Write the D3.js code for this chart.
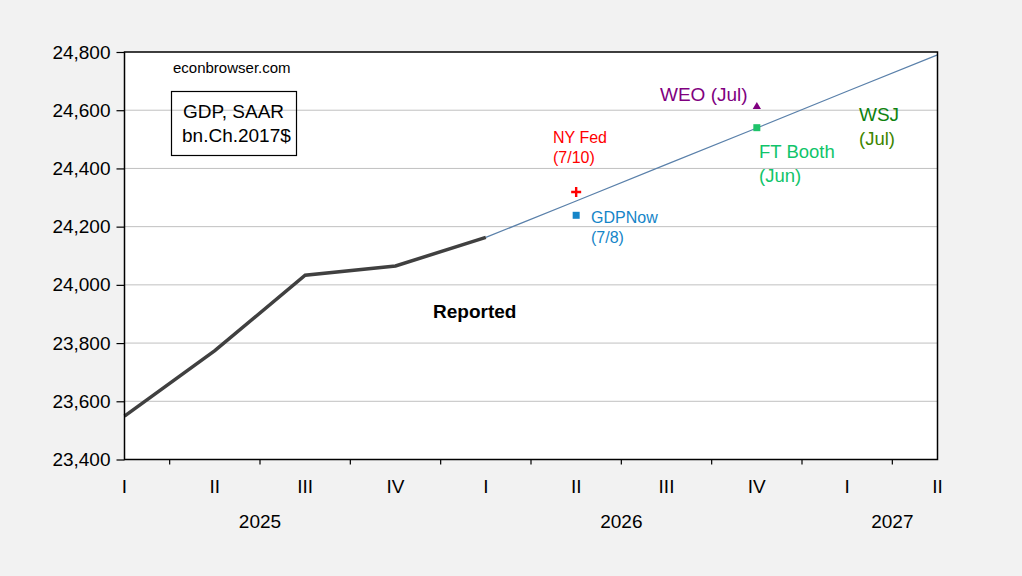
<!DOCTYPE html>
<html>
<head>
<meta charset="utf-8">
<script src="https://cdn.jsdelivr.net/npm/d3@7"></script>
<style>
  body { margin: 0; background: #f2f2f2; }
  svg { display: block; font-family: "Liberation Sans", Arial, sans-serif; }
</style>
</head>
<body>
<div id="chart"></div>
<script>
// quarters shown on the axis, 2025Q1 .. 2027Q2
var quarters = ["2025Q1", "2025Q2", "2025Q3", "2025Q4", "2026Q1", "2026Q2", "2026Q3", "2026Q4", "2027Q1", "2027Q2"];
var quarterLabels = ["I", "II", "III", "IV", "I", "II", "III", "IV", "I", "II"];
var yearLabels = ["2025", "2026", "2027"];
var yTicks = [23400, 23600, 23800, 24000, 24200, 24400, 24600, 24800];

// reported GDP, bn. Ch.2017$, SAAR
var reportedQ = ["2025Q1", "2025Q2", "2025Q3", "2025Q4", "2026Q1"];
var reported = [23549, 23774, 24033, 24065, 24163];

// extrapolated path from last reported quarter
var pathQ = ["2026Q1", "2026Q2", "2026Q3", "2026Q4", "2027Q1", "2027Q2"];
var pathValues = [24163, 24288, 24414, 24539, 24665, 24790];

// nowcasts / forecasts
var nyFed = {q: "2026Q2", value: 24319};
var gdpNow = {q: "2026Q2", value: 24239};
var weo = {q: "2026Q4", value: 24612};
var ftBooth = {q: "2026Q4", value: 24540};

var W = 1022, H = 576;
var margin = {top: 52, right: 84.5, bottom: 116.5, left: 124.5},
    width = W - margin.left - margin.right,
    height = H - margin.top - margin.bottom;

var svg = d3.select("#chart").append("svg")
    .attr("width", W)
    .attr("height", H);

svg.append("rect").attr("width", W).attr("height", H).attr("fill", "#f2f2f2");

var g = svg.append("g")
    .attr("transform", "translate(" + margin.left + "," + margin.top + ")");

var x = d3.scalePoint().domain(quarters).range([0, width]);
var y = d3.scaleLinear().domain([23400, 24800]).range([height, 0]);
var step = x.step();

g.append("rect").attr("width", width).attr("height", height).attr("fill", "#fff");

// grid
g.selectAll(".grid").data(yTicks.slice(1, -1)).enter().append("line")
    .attr("x1", 0).attr("x2", width)
    .attr("y1", function (d) { return y(d); })
    .attr("y2", function (d) { return y(d); })
    .attr("stroke", "#c0c0c0").attr("stroke-width", 1);

// y axis
var yAxis = g.append("g")
    .call(d3.axisLeft(y).tickValues(yTicks).tickSize(8).tickPadding(6).tickFormat(d3.format(",")));
yAxis.select(".domain").remove();
yAxis.selectAll("line").attr("stroke", "#000").attr("stroke-width", 1.2);
yAxis.selectAll("text").attr("font-size", "19px").attr("fill", "#000")
    .attr("font-family", "'Liberation Sans', Arial, sans-serif");

// x axis ticks at quarter boundaries, long ones at year boundaries
var bounds = quarters.slice(0, -1).map(function (q, i) {
    return {pos: x(q) + step / 2, year: q.slice(5) === "Q4"};
});
g.selectAll(".xtick").data(bounds).enter().append("line")
    .attr("x1", function (d) { return d.pos; })
    .attr("x2", function (d) { return d.pos; })
    .attr("y1", height)
    .attr("y2", function (d) { return height + (d.year ? 10 : 5); })
    .attr("stroke", "#000").attr("stroke-width", 1.2);

g.selectAll(".qlab").data(quarters).enter().append("text")
    .attr("x", function (d) { return x(d); })
    .attr("y", height + 33)
    .attr("text-anchor", "middle")
    .attr("font-size", "19px")
    .text(function (d, i) { return quarterLabels[i]; });

// year labels centred between first and last quarter shown for that year
var yearPos = yearLabels.map(function (yr) {
    var qs = quarters.filter(function (q) { return q.slice(0, 4) === yr; });
    return (x(qs[0]) + x(qs[qs.length - 1])) / 2;
});
g.selectAll(".ylab").data(yearLabels).enter().append("text")
    .attr("x", function (d, i) { return yearPos[i]; })
    .attr("y", height + 68)
    .attr("text-anchor", "middle")
    .attr("font-size", "19px")
    .text(function (d) { return d; });

// lines
var line = d3.line()
    .x(function (d) { return x(d[0]); })
    .y(function (d) { return y(d[1]); });

g.append("path")
    .datum(d3.zip(pathQ, pathValues))
    .attr("d", line)
    .attr("fill", "none")
    .attr("stroke", "#5a80aa")
    .attr("stroke-width", 1.2);

g.append("path")
    .datum(d3.zip(reportedQ, reported))
    .attr("d", line)
    .attr("fill", "none")
    .attr("stroke", "#404040")
    .attr("stroke-width", 3.5);

// markers
g.append("path")
    .attr("d", "M-5,0H5M0,-5V5")
    .attr("transform", "translate(" + x(nyFed.q) + "," + y(nyFed.value) + ")")
    .attr("stroke", "#ff0000").attr("stroke-width", 2.4);

g.append("rect")
    .attr("x", x(gdpNow.q) - 3.5).attr("y", y(gdpNow.value) - 3.5)
    .attr("width", 7).attr("height", 7)
    .attr("fill", "#1585c8");

g.append("path")
    .attr("d", d3.symbol(d3.symbolTriangle, 30)())
    .attr("transform", "translate(" + x(weo.q) + "," + y(weo.value) + ")")
    .attr("fill", "#800080");

g.append("rect")
    .attr("x", x(ftBooth.q) - 3.5).attr("y", y(ftBooth.value) - 3.5)
    .attr("width", 7).attr("height", 7)
    .attr("fill", "#1fc36a");

// plot frame
g.append("rect").attr("width", width).attr("height", height)
    .attr("fill", "none").attr("stroke", "#000").attr("stroke-width", 1.5);

// annotations (absolute page coordinates)
var notes = [
    {t: "econbrowser.com", x: 173, y: 73, c: "#000", s: 15},
    {t: "GDP, SAAR", x: 183, y: 118, c: "#000", s: 19},
    {t: "bn.Ch.2017$", x: 182, y: 142, c: "#000", s: 19},
    {t: "Reported", x: 433, y: 318, c: "#000", s: 19, b: true},
    {t: "WEO (Jul)", x: 660, y: 101, c: "#800080", s: 19},
    {t: "NY Fed", x: 553, y: 143, c: "#ff0000", s: 16},
    {t: "(7/10)", x: 553, y: 163, c: "#ff0000", s: 16},
    {t: "GDPNow", x: 591, y: 223, c: "#1585c8", s: 16},
    {t: "(7/8)", x: 591, y: 243, c: "#1585c8", s: 16},
    {t: "FT Booth", x: 759, y: 158, c: "#10c46a", s: 18.5},
    {t: "(Jun)", x: 759, y: 182, c: "#10c46a", s: 18.5},
    {t: "WSJ", x: 859, y: 121, c: "#0e820e", s: 19},
    {t: "(Jul)", x: 859, y: 145, c: "#3d8500", s: 18.5}
];
svg.selectAll(".note").data(notes).enter().append("text")
    .attr("x", function (d) { return d.x; })
    .attr("y", function (d) { return d.y; })
    .attr("fill", function (d) { return d.c; })
    .attr("font-size", function (d) { return d.s + "px"; })
    .attr("font-weight", function (d) { return d.b ? "bold" : "normal"; })
    .text(function (d) { return d.t; });

svg.append("rect")
    .attr("x", 171.5).attr("y", 91.5).attr("width", 125).attr("height", 64)
    .attr("fill", "none").attr("stroke", "#000").attr("stroke-width", 1.2);
</script>
</body>
</html>
